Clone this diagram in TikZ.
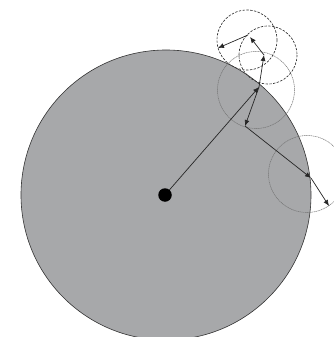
\documentclass[tikz,border=0pt]{standalone}
\usetikzlibrary{arrows.meta}
\definecolor{disk}{HTML}{A7A8AA}
\tikzset{
  vec/.style={draw=black!85, line width=0.7pt, -{Latex[length=6pt,width=5pt]}},
  bigdisk/.style={fill=disk, draw=black!80, line width=0.6pt},
  grayring/.style={draw=black!55, line width=0.5pt, dash pattern=on 1.2pt off 0.6pt},
  dashring/.style={draw=black!80, line width=0.65pt, dash pattern=on 2.4pt off 1.4pt},
}
\begin{document}
\begin{tikzpicture}[x=1pt,y=-1pt]
\useasboundingbox (0,0) rectangle (333,337);
% main disk
\path[bigdisk] (166,195) circle[radius=145];
% coordinates
\coordinate (o) at (165,195);
\coordinate (p1) at (259,87);
\coordinate (p2) at (245,126);
\coordinate (p3) at (264,55);
\coordinate (p4) at (250,37);
\coordinate (p4s) at (248,35);
\coordinate (p5) at (218,48);
\coordinate (p6) at (311,178);
\coordinate (p7) at (329,206);
% rings
\path[grayring] (256,90) circle[radius=38.5];
\path[grayring] (307,174) circle[radius=38.5];
\path[dashring] (247,40) circle[radius=30];
\path[dashring] (268,55) circle[radius=29];
% vectors
\draw[vec] (o) -- (p1);
\draw[vec] (p1) -- (p2);
\draw[vec] (p1) -- (p3);
\draw[vec] (p3) -- (p4);
\draw[vec] (p4s) -- (p5);
\draw[vec] (p2) -- (p6);
\draw[vec] (p6) -- (p7);
% centre dot
\node[circle, fill=black, inner sep=0pt, minimum size=13.5pt] (dot) at (o) {};
\end{tikzpicture}
\end{document}
